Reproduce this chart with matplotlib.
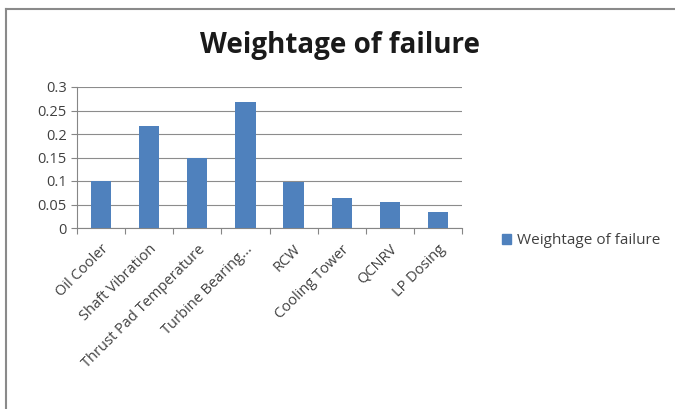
import matplotlib
matplotlib.use("Agg")
import matplotlib.pyplot as plt
from matplotlib.lines import Line2D
from matplotlib.patches import Patch

categories = ["Oil Cooler", "Shaft Vibration", "Thrust Pad Temperature", "Turbine Bearing...",
              "RCW", "Cooling Tower", "QCNRV", "LP Dosing"]
values = [0.101, 0.218, 0.150, 0.268, 0.098, 0.064, 0.056, 0.033]
yticks = [0, 0.05, 0.1, 0.15, 0.2, 0.25, 0.3]
ytick_labels = ["0", "0.05", "0.1", "0.15", "0.2", "0.25", "0.3"]
series_name = "Weightage of failure"

plt.rcParams['font.family'] = ['Open Sans', 'DejaVu Sans']

fig = plt.figure(figsize=(6.75, 4.09), dpi=100)
ax = fig.add_axes([77/675, 1-228/409, 385/675, 141/409])

x = list(range(len(categories)))
color = "#4F81BD"
ax.bar(x, values, width=0.42, color=color, zorder=3)
ax.set_xlim(-0.5, len(categories)-0.5)
ax.set_ylim(0, 0.3)
ax.set_yticks(yticks)
ax.set_yticklabels(ytick_labels, fontsize=10.5, color="#404040")
ax.tick_params(axis='y', length=4, color="#868686", width=0.8)
ax.set_xticks(x)
ax.set_xticklabels(categories, rotation=45, ha='right', rotation_mode='anchor',
                   fontsize=10.5, color="#404040")
ax.tick_params(axis='x', length=0, pad=10)
ax.set_xticks([i - 0.5 for i in range(len(categories)+1)], minor=True)
ax.tick_params(axis='x', which='minor', length=4, color="#868686", width=0.8)
ax.grid(axis='y', color="#8c8c8c", linewidth=0.8, zorder=0)
for s in ['top', 'right']:
    ax.spines[s].set_visible(False)
for s in ['left', 'bottom']:
    ax.spines[s].set_color("#868686")
    ax.spines[s].set_linewidth(0.8)

fig.text(340/675, 1-45/409, "Weightage of failure", ha='center', va='center',
         fontsize=20, fontweight='bold', color="#1a1a1a")

handle = Patch(facecolor=color, edgecolor=color)
fig.legend([handle], [series_name], loc='center left', bbox_to_anchor=(488/675, 1-241/409),
           frameon=False, fontsize=11, handlelength=0.6, handleheight=0.6,
           handletextpad=0.4, labelcolor="#404040")

# outer chart frame
fig.add_artist(Line2D([6/675, 1], [1-9/409, 1-9/409], transform=fig.transFigure,
                      color="#8a8a8a", linewidth=1.5))
fig.add_artist(Line2D([6/675, 6/675], [0, 1-9/409], transform=fig.transFigure,
                      color="#8a8a8a", linewidth=1.5))

fig.savefig("out.png", dpi=100)
